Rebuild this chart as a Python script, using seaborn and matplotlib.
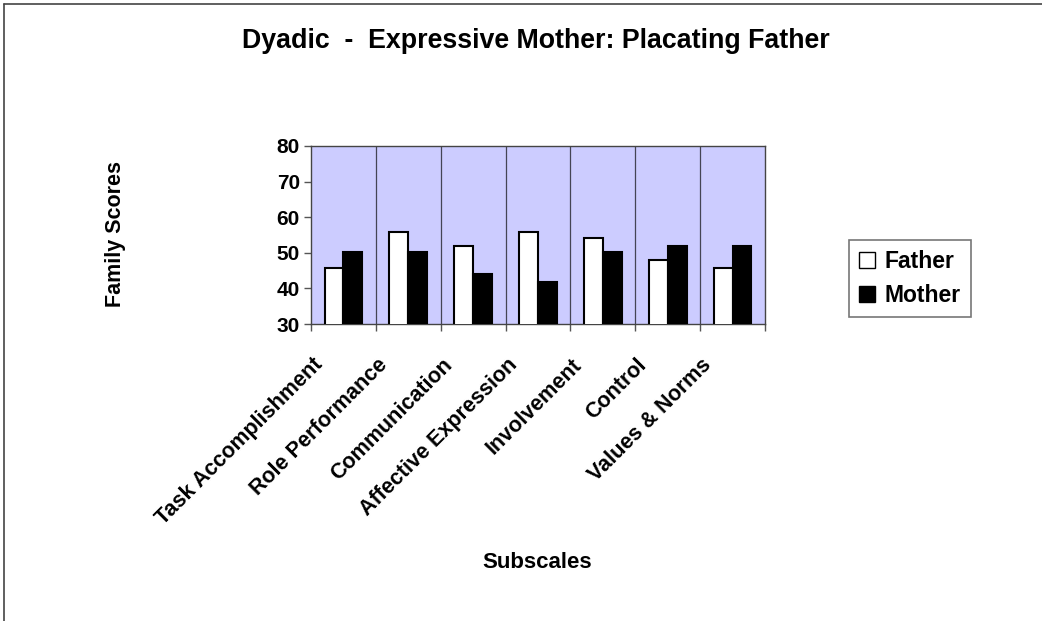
import seaborn as sns
import matplotlib.pyplot as plt
import matplotlib.transforms as mtransforms
from matplotlib.lines import Line2D
from matplotlib.patches import Patch
import numpy as np
import pandas as pd

subscales = ['Task Accomplishment', 'Role Performance', 'Communication',
             'Affective Expression', 'Involvement', 'Control', 'Values & Norms']
father = [45.6, 55.8, 51.8, 55.8, 54.1, 47.9, 45.6]
mother = [50.1, 50.1, 44.0, 41.7, 50.1, 51.8, 51.8]
y_ticks = [30, 40, 50, 60, 70, 80]

df = pd.DataFrame({
    'Subscale': subscales * 2,
    'Score': father + mother,
    'Parent': ['Father'] * len(subscales) + ['Mother'] * len(subscales),
})

sns.set_style('white')
plt.rcParams['font.family'] = ['Liberation Sans', 'DejaVu Sans']
plt.rcParams['font.weight'] = 'bold'
plt.rcParams['text.color'] = 'black'
plt.rcParams['xtick.color'] = 'black'
plt.rcParams['ytick.color'] = 'black'

fig = plt.figure(figsize=(10.42, 6.21), dpi=100)
ax = fig.add_axes([311 / 1042, 1 - 324 / 621, (765 - 311) / 1042, (324 - 146) / 621])

sns.barplot(data=df, x='Subscale', y='Score', hue='Parent',
            palette={'Father': 'white', 'Mother': 'black'},
            width=0.58, edgecolor='black', linewidth=1.5,
            legend=False, ax=ax, zorder=3)

ax.set_facecolor('#CCCCFF')
ax.set_ylim(30, 80)
ax.set_xlim(-0.5, len(subscales) - 0.5)
ax.set_yticks(y_ticks)
ax.set_xlabel('')
ax.set_ylabel('')

# category boundary ticks and lines
bounds = np.arange(-0.5, len(subscales), 1.0)
ax.set_xticks(bounds, minor=True)
for b in bounds[1:-1]:
    ax.axvline(b, color='#444455', lw=0.9, zorder=1)
ax.tick_params(axis='x', which='major', length=0, pad=2)
ax.tick_params(axis='x', which='minor', length=5, width=1, color='#555555', direction='out', bottom=True)
ax.tick_params(axis='y', length=5, width=1, color='#555555', direction='out', left=True,
               labelsize=15, pad=3, labelcolor='black')

ax.set_xticks(range(len(subscales)))
ax.set_xticklabels(subscales, rotation=45, ha='right', va='center',
                   rotation_mode='anchor', fontsize=15.5, fontweight='bold', color='black')
offset = mtransforms.ScaledTranslation(-24 / 100, -35 / 100, fig.dpi_scale_trans)
for lab in ax.get_xticklabels():
    lab.set_transform(lab.get_transform() + offset)
for lab in ax.get_yticklabels():
    lab.set_fontweight('bold')

for side in ['left', 'bottom', 'top', 'right']:
    ax.spines[side].set_visible(True)
    ax.spines[side].set_linewidth(1.0)
    ax.spines[side].set_color('#444444')

fig.text(536 / 1042, 1 - 48 / 621, 'Dyadic  -  Expressive Mother: Placating Father',
         ha='center', va='baseline', fontsize=19.3, fontweight='bold')
fig.text(116 / 1042, 1 - 234 / 621, 'Family Scores', rotation=90,
         ha='center', va='center', fontsize=15.5, fontweight='bold')
fig.text(537 / 1042, 1 - 568 / 621, 'Subscales',
         ha='center', va='baseline', fontsize=16, fontweight='bold')

handles = [Patch(facecolor='white', edgecolor='black', label='Father'),
           Patch(facecolor='black', edgecolor='black', label='Mother')]
leg = fig.legend(handles=handles, loc='upper left',
                 bbox_to_anchor=(849 / 1042, 1 - 240 / 621),
                 frameon=True, fancybox=False, edgecolor='#555555',
                 prop={'size': 16.5, 'weight': 'bold'},
                 handlelength=0.7, handleheight=0.7, handletextpad=0.45,
                 labelspacing=0.5, borderpad=0.42, borderaxespad=0)
leg.get_frame().set_linewidth(1.2)

# outer chart border (left and top visible)
fig.add_artist(Line2D([4 / 1042, 4 / 1042], [0, 1 - 4 / 621], color='#444444', lw=1.2))
fig.add_artist(Line2D([4 / 1042, 1], [1 - 4 / 621, 1 - 4 / 621], color='#444444', lw=1.2))

fig.savefig('out.png', dpi=100)
